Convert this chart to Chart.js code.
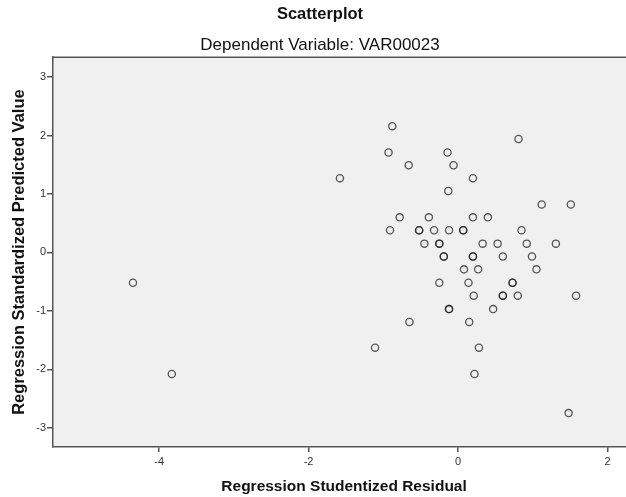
<!DOCTYPE html>
<html>
<head>
<meta charset="utf-8">
<script src="https://cdn.jsdelivr.net/npm/chart.js@4"></script>
<style>
    html, body { margin: 0; padding: 0; background: #fff; overflow: hidden; }
    #wrap { width: 640px; height: 497px; }
</style>
</head>
<body>
<div id="wrap"><canvas id="scatter" width="640" height="497"></canvas></div>
<script>
// studentized residual (x) and standardized predicted value (y), one entry per case
const residuals = [
    -0.88, 0.81, -0.93, -0.14, -0.66, -0.06, -1.58, 0.20, -0.13, 1.12, 1.51,
    -0.78, -0.39, 0.20, 0.40,
    -0.91, -0.52, -0.52, -0.32, -0.12, 0.07, 0.07, 0.85,
    -0.45, -0.25, -0.25, 0.33, 0.53, 0.92, 1.31,
    -0.19, -0.19, 0.20, 0.20, 0.60, 0.99,
    0.08, 0.27, 1.05,
    -0.25, 0.14, 0.73, 0.73,
    0.21, 0.60, 0.60, 0.80, 1.58,
    -0.12, -0.12, 0.47,
    -0.65, 0.15,
    -1.11, 0.28,
    0.22, 1.48,
    -4.35, -3.83
];
const predicted = [
    2.16, 1.94, 1.71, 1.71, 1.49, 1.49, 1.27, 1.27, 1.05, 0.82, 0.82,
    0.60, 0.60, 0.60, 0.60,
    0.38, 0.38, 0.38, 0.38, 0.38, 0.38, 0.38, 0.38,
    0.15, 0.15, 0.15, 0.15, 0.15, 0.15, 0.15,
    -0.07, -0.07, -0.07, -0.07, -0.07, -0.07,
    -0.29, -0.29, -0.29,
    -0.52, -0.52, -0.52, -0.52,
    -0.74, -0.74, -0.74, -0.74, -0.74,
    -0.97, -0.97, -0.97,
    -1.19, -1.19,
    -1.63, -1.63,
    -2.08, -2.75,
    -0.52, -2.08
];
const xTicks = [-4, -2, 0, 2];
const yTicks = [-3, -2, -1, 0, 1, 2, 3];

const axisColor = "#555555";
const textColor = "#333333";

const plotBackground = {
    id: "plotBackground",
    beforeDraw(chart) {
        const { ctx, chartArea } = chart;
        ctx.save();
        ctx.fillStyle = "#f0f0f0";
        ctx.fillRect(chartArea.left, chartArea.top, chartArea.right - chartArea.left, chartArea.bottom - chartArea.top);
        ctx.strokeStyle = axisColor;
        ctx.lineWidth = 1.5;
        ctx.beginPath();
        ctx.moveTo(chartArea.left, chartArea.top);
        ctx.lineTo(chartArea.right, chartArea.top);
        ctx.stroke();
        ctx.restore();
    }
};

new Chart(document.getElementById("scatter"), {
    type: "scatter",
    data: {
        datasets: [{
            data: residuals.map((r, i) => ({ x: r, y: predicted[i] })),
            pointStyle: "circle",
            pointRadius: 3.6,
            pointHoverRadius: 3.6,
            borderWidth: 1.3,
            borderColor: "rgba(25, 25, 25, 0.72)",
            backgroundColor: "rgba(0, 0, 0, 0)"
        }]
    },
    plugins: [plotBackground],
    options: {
        responsive: false,
        animation: false,
        layout: { padding: 0 },
        plugins: {
            legend: { display: false },
            tooltip: { enabled: false },
            title: {
                display: true,
                text: "Scatterplot",
                color: "#111",
                font: { family: "Liberation Sans, Arial", size: 16.5, weight: "bold" },
                padding: { top: 5, bottom: 10 }
            },
            subtitle: {
                display: true,
                text: "Dependent Variable: VAR00023",
                color: "#111",
                font: { family: "Liberation Sans, Arial", size: 17 },
                padding: { top: 0, bottom: 2 }
            }
        },
        scales: {
            x: {
                type: "linear",
                min: -5.42,
                max: 2.37,
                afterBuildTicks: scale => { scale.ticks = xTicks.map(v => ({ value: v })); },
                afterFit: scale => { scale.height = 50; },
                grid: { drawOnChartArea: false, drawTicks: true, tickLength: 5, color: axisColor, lineWidth: 1.5 },
                border: { display: true, color: axisColor, width: 1.5 },
                ticks: { color: textColor, padding: 3, font: { family: "Liberation Sans, Arial", size: 11 } },
                title: {
                    display: true,
                    text: "Regression Studentized Residual",
                    color: "#111",
                    font: { family: "Liberation Sans, Arial", size: 15.5, weight: "bold" },
                    padding: { top: 0, bottom: 1 }
                }
            },
            y: {
                type: "linear",
                min: -3.33,
                max: 3.34,
                afterBuildTicks: scale => { scale.ticks = yTicks.map(v => ({ value: v })); },
                afterFit: scale => { scale.width = 53; },
                grid: { drawOnChartArea: false, drawTicks: true, tickLength: 6, color: axisColor, lineWidth: 1.5 },
                border: { display: true, color: axisColor, width: 1.5 },
                ticks: { color: textColor, padding: 1, font: { family: "Liberation Sans, Arial", size: 11 } },
                title: {
                    display: true,
                    text: "Regression Standardized Predicted Value",
                    color: "#111",
                    font: { family: "Liberation Sans, Arial", size: 16.5, weight: "bold" },
                    padding: { top: 10, bottom: 0 }
                }
            }
        }
    }
});
</script>
</body>
</html>
